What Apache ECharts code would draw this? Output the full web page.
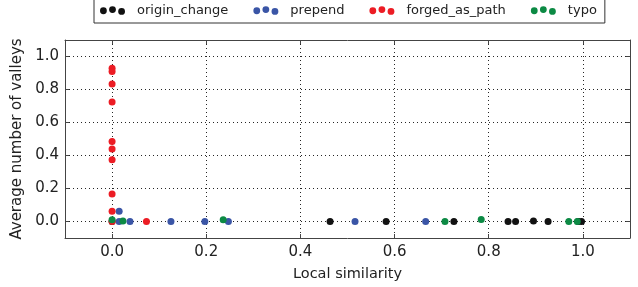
<!DOCTYPE html>
<html>
<head>
<meta charset="utf-8">
<script src="https://cdn.jsdelivr.net/npm/echarts@6/dist/echarts.min.js"></script>
<style>
  html, body { margin: 0; padding: 0; background: #fff; }
  #chart { width: 638px; height: 287px; }
</style>
</head>
<body>
<div id="chart"></div>
<script>
var seriesNames = ['origin_change', 'prepend', 'forged_as_path', 'typo'];
var seriesColors = ['#111111', '#3a55a6', '#ec1c24', '#0c8a44'];

var originX = [0.0, 0.463, 0.582, 0.726, 0.841, 0.857, 0.895, 0.926, 0.990, 0.997];
var originY = [0.0, 0.0, 0.0, 0.0, 0.0, 0.0, 0.003, 0.0, 0.0, 0.0];

var prependX = [0.015, 0.015, 0.038, 0.125, 0.197, 0.247, 0.516, 0.666];
var prependY = [0.062, 0.0, 0.0, 0.0, 0.0, 0.0, 0.0, 0.0];

var forgedX = [0, 0, 0, 0, 0, 0, 0, 0, 0, 0, 0.073];
var forgedY = [0.929, 0.909, 0.833, 0.725, 0.485, 0.44, 0.374, 0.166, 0.062, 0.0, 0.0];

var typoX = [0.0, 0.023, 0.236, 0.707, 0.784, 0.970, 0.988];
var typoY = [0.01, 0.003, 0.01, 0.0, 0.012, 0.0, 0.0];

var xTicks = [0.0, 0.2, 0.4, 0.6, 0.8, 1.0];
var yTicks = [0.0, 0.2, 0.4, 0.6, 0.8, 1.0];

function pairs(xs, ys) {
  return xs.map(function(x, i) { return [x, ys[i]]; });
}

var dotsIcon = 'path://M0,5a3,3 0 1,0 6,0a3,3 0 1,0 -6,0z' +
  'M8,4a3,3 0 1,0 6,0a3,3 0 1,0 -6,0z' +
  'M16,5.6a3,3 0 1,0 6,0a3,3 0 1,0 -6,0z';

var font = 'DejaVu Sans';
var ink = '#222';

var chart = echarts.init(document.getElementById('chart'), null, { renderer: 'canvas' });

var gridLine = { show: true, lineStyle: { color: '#000', type: [1, 3], width: 1, opacity: 0.85 } };

function axisCommon(ticks) {
  return {
    type: 'value',
    min: -0.1,
    max: 1.1,
    axisLine: { show: true, onZero: false, lineStyle: { color: '#444', width: 1 } },
    axisTick: { show: true, inside: true, length: 4, customValues: ticks, lineStyle: { color: '#444' } }
  };
}

var xMain = axisCommon(xTicks);
xMain.position = 'bottom';
xMain.name = 'Local similarity';
xMain.nameLocation = 'middle';
xMain.nameGap = 29;
xMain.nameTextStyle = { fontFamily: font, fontSize: 14.5, color: ink };
xMain.axisLabel = { customValues: xTicks, fontFamily: font, fontSize: 15, color: ink, margin: 7,
  formatter: function(v) { return v.toFixed(1); } };
xMain.splitLine = gridLine;

var xTop = axisCommon(xTicks);
xTop.position = 'top';
xTop.axisLabel = { show: false };
xTop.splitLine = { show: false };

var yMain = axisCommon(yTicks);
yMain.position = 'left';
yMain.name = 'Average number of valleys';
yMain.nameLocation = 'middle';
yMain.nameGap = 38;
yMain.nameTextStyle = { fontFamily: font, fontSize: 15, color: ink };
yMain.axisLabel = { customValues: yTicks, fontFamily: font, fontSize: 15, color: ink, margin: 6,
  formatter: function(v) { return v.toFixed(1); } };
yMain.splitLine = gridLine;

var yRight = axisCommon(yTicks);
yRight.position = 'right';
yRight.axisLabel = { show: false };
yRight.splitLine = { show: false };

var allX = [originX, prependX, forgedX, typoX];
var allY = [originY, prependY, forgedY, typoY];

chart.setOption({
  animation: false,
  backgroundColor: '#fff',
  grid: { left: 65, right: 8, top: 40, bottom: 47 },
  legend: {
    top: -6,
    left: 94,
    width: 540,
    padding: [10, 8, 6, 6],
    borderColor: '#333',
    borderWidth: 1,
    itemGap: 25,
    itemWidth: 25,
    itemHeight: 9,
    icon: dotsIcon,
    textStyle: { fontFamily: font, fontSize: 13, color: ink, padding: [0, 0, 0, 7] },
    data: seriesNames
  },
  xAxis: [xMain, xTop],
  yAxis: [yMain, yRight],
  series: seriesNames.map(function(name, i) {
    return {
      name: name,
      type: 'scatter',
      symbol: 'circle',
      symbolSize: 7,
      itemStyle: { color: seriesColors[i], opacity: 1 },
      data: pairs(allX[i], allY[i])
    };
  })
});
</script>
</body>
</html>
